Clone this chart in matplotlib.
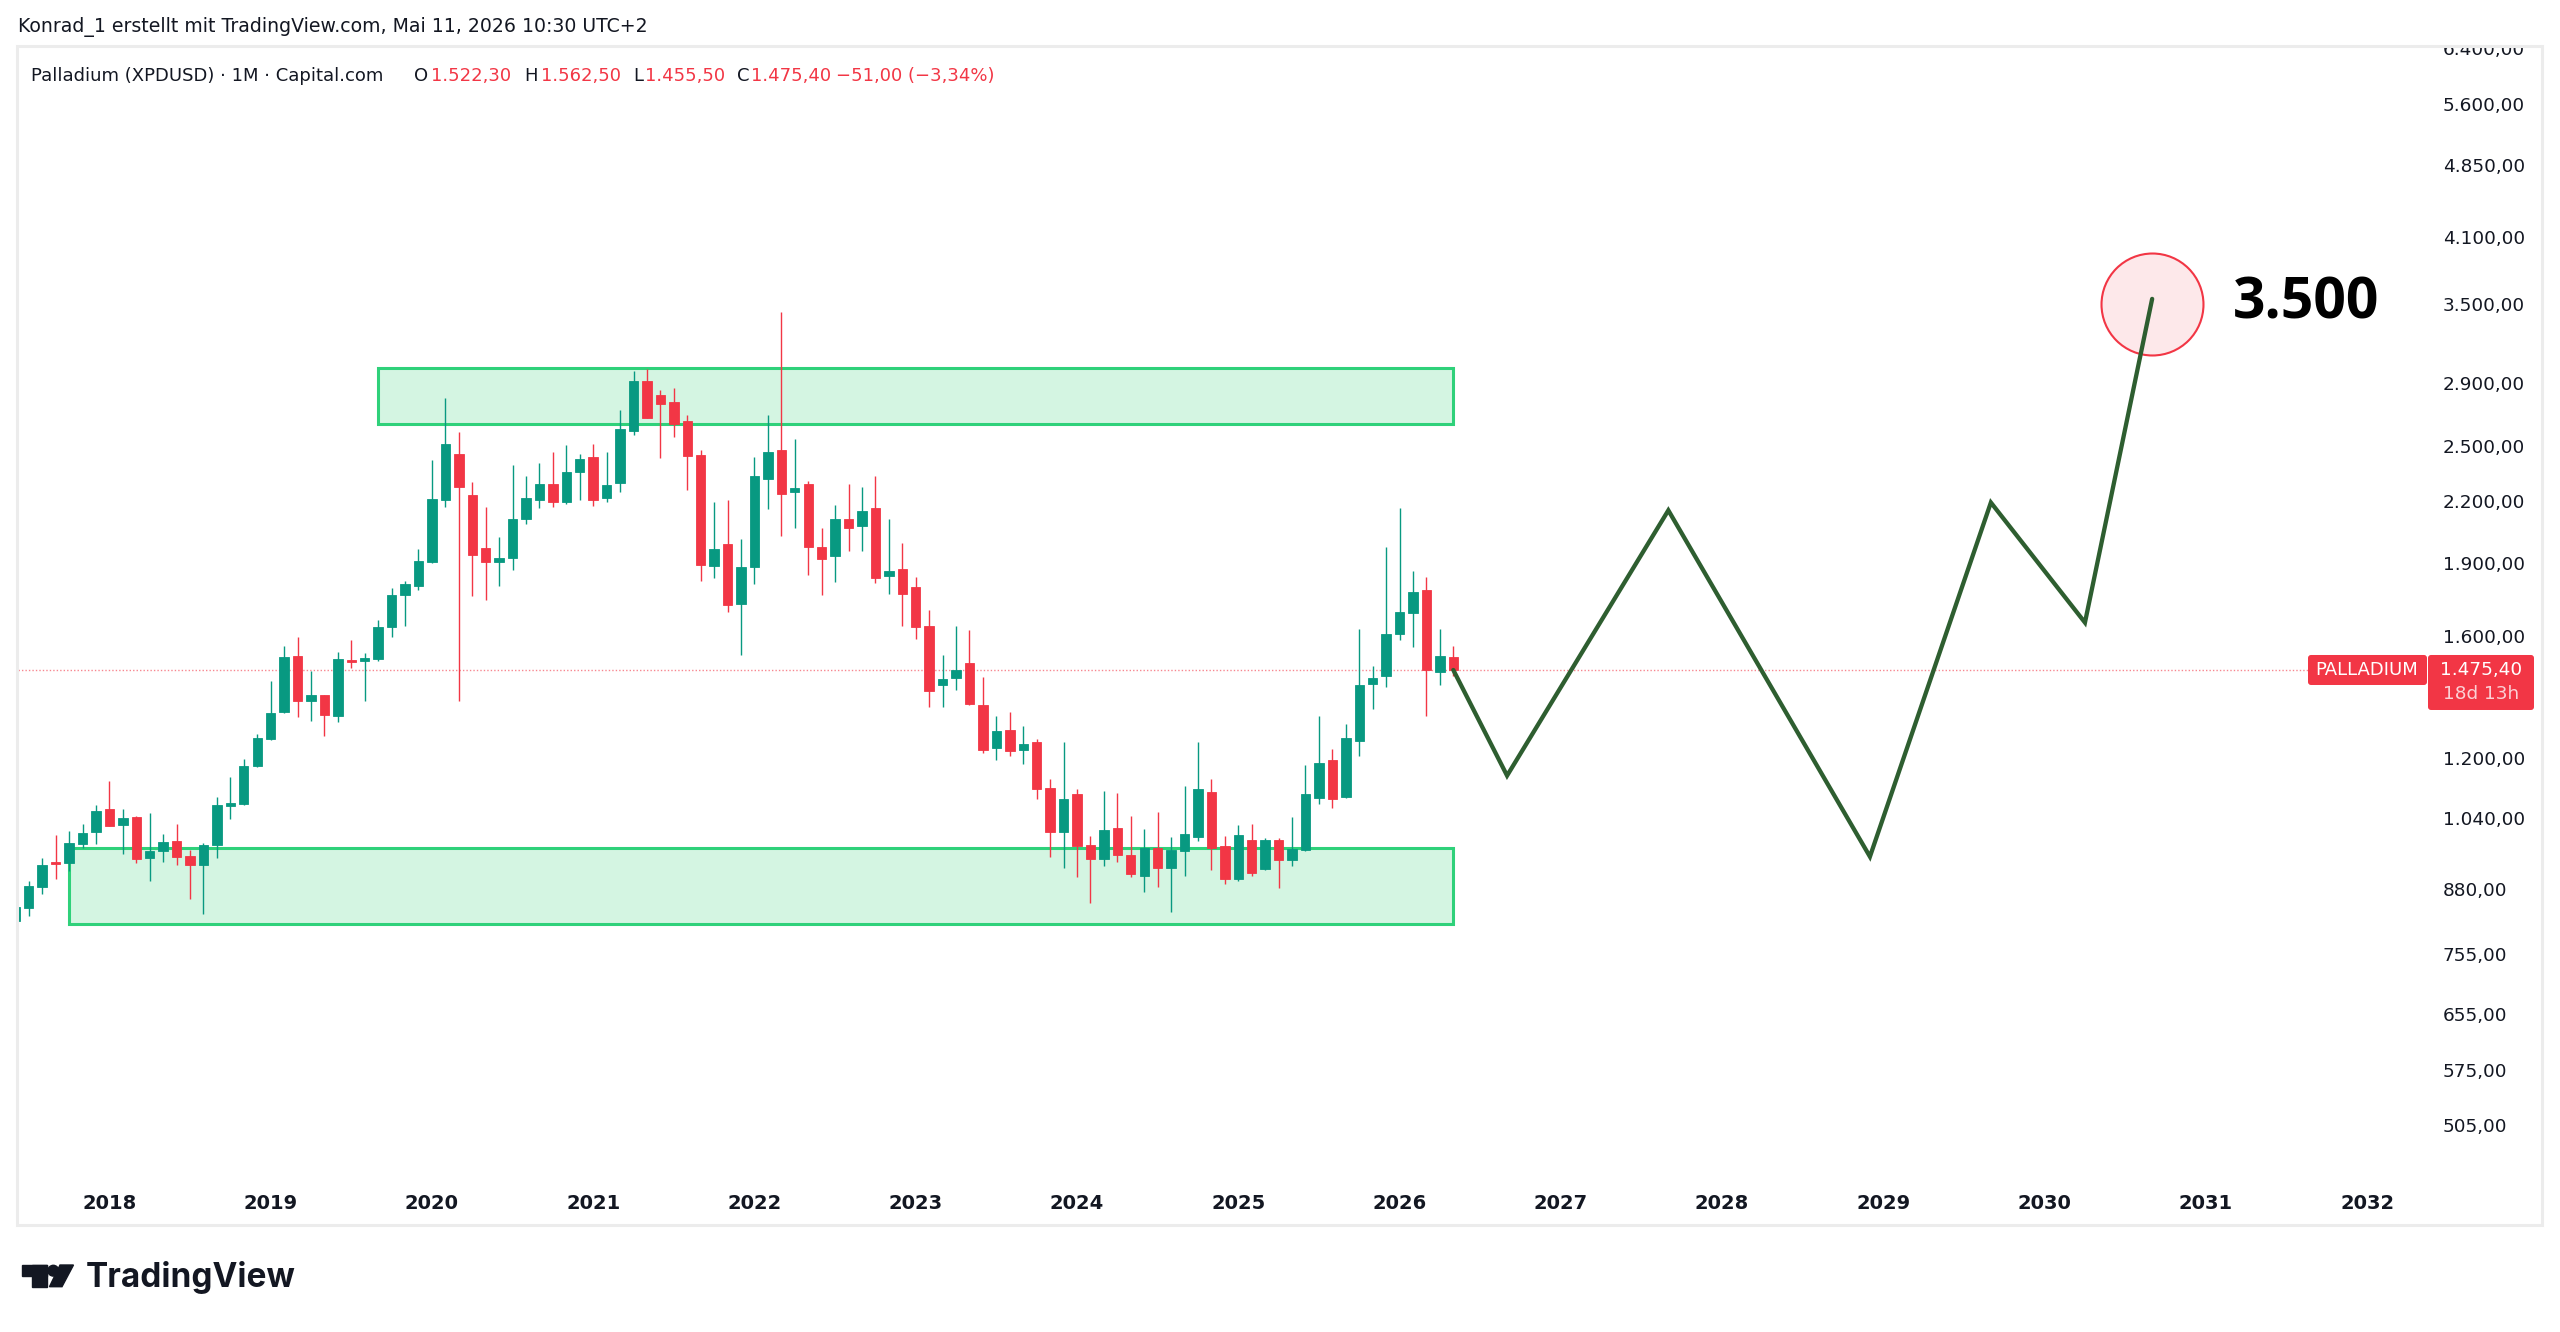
import matplotlib
matplotlib.use('Agg')
import matplotlib.pyplot as plt
from matplotlib.patches import Rectangle, Polygon, Circle, FancyBboxPatch
from matplotlib.ticker import NullLocator, NullFormatter
from matplotlib.transforms import IdentityTransform
import numpy as np
import pandas as pd

plt.rcParams['font.family'] = ['DejaVu Sans']

W, H = 2560, 1332
GREEN = '#089981'
RED = '#f23645'
TEXT = '#131722'

# monthly candles XPDUSD, Jun 2017 .. May 2026
months = pd.date_range('2017-06-01', periods=108, freq='MS')
opens = [
    816, 841, 884, 937, 935, 979, 1006,
    1064, 1024, 1042, 948, 962, 986, 952, 931, 977, 1070, 1075, 1177,
    1255, 1335, 1525, 1372, 1390, 1323, 1512, 1507, 1514, 1632, 1760, 1800,
    1904, 2205, 2456, 2229, 1967, 1904, 1923, 2106, 2202, 2289, 2195, 2352,
    2438, 2215, 2295, 2594, 2920, 2819, 2776, 2654, 2447, 1887, 1987, 1724,
    1881, 2317, 2476, 2247, 2288, 1974, 1929, 2107, 2074, 2163, 1842, 1871,
    1793, 1637, 1424, 1449, 1500, 1359, 1227, 1280, 1222, 1246, 1118, 1008,
    1100, 977, 945, 1017, 954, 908, 969, 924, 962, 995, 1107, 974,
    901, 987, 922, 987, 942, 966, 1092, 1193, 1093, 1247, 1426, 1455,
    1606, 1686, 1782, 1467, 1522.3,
]
highs = [
    846, 897, 948, 1000, 1009, 1027, 1072,
    1135, 1064, 1045, 1054, 1003, 1027, 965, 981, 1093, 1146, 1197, 1270,
    1438, 1563, 1595, 1471, 1392, 1540, 1582, 1534, 1659, 1789, 1822, 1963,
    2422, 2805, 2587, 2300, 2169, 2021, 2392, 2329, 2406, 2465, 2507, 2453,
    2514, 2465, 2724, 2988, 3002, 2855, 2869, 2695, 2476, 2193, 2204, 2009,
    2440, 2690, 3431, 2541, 2305, 2061, 2179, 2288, 2271, 2334, 2107, 1991,
    1838, 1700, 1529, 1637, 1620, 1450, 1325, 1337, 1293, 1253, 1141, 1246,
    1115, 998, 1109, 1103, 1046, 1014, 1055, 995, 1123, 1246, 1140, 998,
    1023, 1027, 993, 993, 1044, 1178, 1323, 1224, 1298, 1627, 1491, 1973,
    2160, 1863, 1839, 1626, 1562.5,
]
lows = [
    812, 825, 869, 902, 919, 970, 979,
    1021, 955, 936, 897, 937, 931, 859, 829, 946, 1039, 1072, 1175,
    1252, 1333, 1320, 1308, 1264, 1305, 1484, 1370, 1507, 1595, 1637, 1780,
    1900, 2169, 1370, 1757, 1740, 1800, 1869, 2081, 2161, 2169, 2180, 2204,
    2171, 2195, 2244, 2569, 2670, 2434, 2555, 2255, 1818, 1832, 1690, 1527,
    1805, 2156, 2026, 2063, 1847, 1762, 1814, 1952, 1952, 1813, 1767, 1637,
    1586, 1352, 1351, 1408, 1358, 1213, 1194, 1204, 1183, 1089, 950, 924,
    906, 852, 930, 937, 905, 873, 884, 833, 907, 985, 920, 890,
    898, 908, 920, 883, 930, 962, 1076, 1066, 1090, 1205, 1346, 1417,
    1584, 1556, 1325, 1424, 1455.5,
]
closes = [
    844, 886, 931, 934, 981, 1004, 1059,
    1022, 1040, 944, 963, 984, 950, 931, 977, 1072, 1077, 1176, 1258,
    1333, 1522, 1370, 1390, 1327, 1514, 1505, 1517, 1632, 1761, 1807, 1907,
    2207, 2517, 2273, 1934, 1902, 1923, 2108, 2212, 2289, 2191, 2354, 2424,
    2202, 2282, 2602, 2920, 2673, 2765, 2638, 2446, 1889, 1964, 1721, 1881,
    2334, 2466, 2237, 2266, 1972, 1917, 2107, 2063, 2149, 1832, 1863, 1763,
    1634, 1405, 1443, 1475, 1361, 1223, 1277, 1219, 1240, 1115, 1006, 1088,
    975, 944, 1011, 954, 911, 970, 925, 965, 1001, 1115, 970, 901,
    1000, 913, 987, 942, 967, 1102, 1185, 1089, 1256, 1425, 1447, 1605,
    1693, 1774, 1474, 1526.4, 1475.4,
]

# support / resistance zones
upper_zone = ('2019-09', '2026-05', 2635, 3010)
lower_zone = ('2017-10', '2026-05', 810, 970)

# drawn projection path and target
proj_dates = ['2026-05', '2026-09', '2027-09', '2028-12', '2029-09', '2030-04', '2030-09']
proj_prices = [1475.4, 1150, 2150, 950, 2190, 1650, 3540]
target_date = '2030-09'
target_price = 3500
target_label = '3.500'
target_label_date = '2031-03'

price_ticks = [505, 575, 655, 755, 880, 1040, 1200, 1600, 1900, 2200, 2500,
               2900, 3500, 4100, 4850, 5600, 6400]
years = list(range(2018, 2033))


def mi(d):
    # month index, Jan 2018 = 0
    t = pd.Timestamp(d)
    return (t.year - 2018) * 12 + t.month - 1


def de(v, dec=2):
    s = f"{v:,.{dec}f}"
    return s.replace(',', 'X').replace('.', ',').replace('X', '.').replace('-', '\u2212')


def px_box(left, top, right, bottom):
    return [left / W, 1 - bottom / H, (right - left) / W, (bottom - top) / H]


fig = plt.figure(figsize=(W / 100, H / 100), dpi=100)
fig.patch.set_facecolor('white')
ax = fig.add_axes(px_box(18, 47, 2429, 1175))

ax.set_yscale('log')
ax.set_ylim(448.4, 6412)
ax.set_xlim(-6.8, 172.6)
for s in ax.spines.values():
    s.set_visible(False)

# candles
o = np.array(opens, float)
h = np.array(highs, float)
l = np.array(lows, float)
c = np.array(closes, float)
x = np.array([mi(d) for d in months])
cols = np.where(c >= o, GREEN, RED)
ax.vlines(x, l, h, colors=cols, lw=1.0, zorder=3)
ax.bar(x, np.abs(c - o), bottom=np.minimum(o, c), width=0.7,
       color=cols, edgecolor=cols, linewidth=0.6, zorder=4)

# zones
for start, end, lo, hi in (upper_zone, lower_zone):
    ax.add_patch(Rectangle((mi(start), lo), mi(end) - mi(start), hi - lo,
                           facecolor='#d4f5e2', edgecolor='#2fd17a', lw=2.2, zorder=2))

# last price line
ax.axhline(c[-1], color=RED, lw=1, ls=(0, (1, 1.5)), alpha=0.6, zorder=1)

# projection
ax.scatter([mi(target_date)], [target_price], s=5390, marker='o',
           facecolor='#fde8ea', edgecolor=RED, linewidths=1.5, zorder=5)
ax.plot([mi(d) for d in proj_dates], proj_prices, color='#2e5e30', lw=3.1,
        solid_capstyle='round', solid_joinstyle='miter', zorder=6)
ax.text(mi(target_label_date), target_price, target_label, fontsize=41,
        fontweight='bold', family=['Open Sans', 'DejaVu Sans'],
        color='#000000', ha='left', va='center', zorder=7)

# axes ticks
ax.yaxis.tick_right()
ax.set_yticks(price_ticks)
ax.set_yticklabels([de(v) for v in price_ticks], ha='left')
ax.yaxis.set_minor_locator(NullLocator())
ax.yaxis.set_minor_formatter(NullFormatter())
ax.tick_params(axis='y', length=0, pad=10, labelsize=13.3, labelcolor=TEXT)
ax.set_xticks([mi(f'{y}-01') for y in years])
ax.set_xticklabels([str(y) for y in years], fontweight='bold')
ax.tick_params(axis='x', length=0, pad=14, labelsize=14, labelcolor=TEXT)

# cover half of the top price label above the pane, then the pane frame
ident = IdentityTransform()
fig.add_artist(Rectangle((2290, H - 45), 270, 45, transform=ident,
                         facecolor='white', edgecolor='none', zorder=5))
fig.add_artist(Rectangle((17, H - 1225), 2525, 1179, transform=ident,
                         facecolor='none', edgecolor='#ececec', lw=2.2, zorder=6))

# last price tags
yp = ax.transData.transform((0, c[-1]))[1]
fig.add_artist(FancyBboxPatch((2308, yp - 15), 119, 30, transform=ident,
                              boxstyle='round,pad=0,rounding_size=3',
                              facecolor=RED, edgecolor='none', zorder=7))
fig.add_artist(FancyBboxPatch((2428, yp - 40), 106, 55, transform=ident,
                              boxstyle='round,pad=0,rounding_size=3',
                              facecolor=RED, edgecolor='none', zorder=7))
fig.text(2367, yp, 'PALLADIUM', transform=ident, color='white', fontsize=13,
         ha='center', va='center', zorder=8)
fig.text(2481, yp, de(c[-1]), transform=ident, color='white', fontsize=13.3,
         ha='center', va='center', zorder=8)
fig.text(2481, yp - 24, '18d 13h', transform=ident, color='#fbd0d5', fontsize=13.3,
         ha='center', va='center', zorder=8)

# header
fig.text(18, H - 27, 'Konrad_1 erstellt mit TradingView.com, Mai 11, 2026 10:30 UTC+2',
         transform=ident, fontsize=13.6, color=TEXT, ha='left', va='center', zorder=8)

# legend line, change vs previous close
chg = c[-1] - c[-2]
pct = chg / c[-2] * 100
legend_parts = [
    (31, 'Palladium (XPDUSD) · 1M · Capital.com', TEXT),
    (414, 'O', TEXT), (431, de(o[-1]), RED),
    (524, 'H', TEXT), (541, de(h[-1]), RED),
    (633, 'L', TEXT), (645, de(l[-1]), RED),
    (737, 'C', TEXT), (751, de(c[-1]), RED),
    (836, f'{de(chg)} ({de(pct)}%)', RED),
]
for xp, txt, col in legend_parts:
    fig.text(xp, H - 76, txt, transform=ident, fontsize=13, color=col,
             ha='left', va='center', zorder=8)

# TradingView logo
k = '#131722'
fig.add_artist(Rectangle((21.7, H - 1276), 25, 11, transform=ident, color=k, zorder=8))
fig.add_artist(Rectangle((32, H - 1286.7), 14.7, 21.7, transform=ident, color=k, zorder=8))
fig.add_artist(Circle((53.3, H - 1270.7), 5.4, transform=ident, color=k, zorder=8))
fig.add_artist(Polygon([(60, H - 1265), (73.5, H - 1265), (62, H - 1286.7), (49.5, H - 1286.7)],
                       closed=True, transform=ident, color=k, zorder=8))
fig.text(86, H - 1286.7, 'TradingView', transform=ident, fontsize=24,
         fontweight='bold', family=['Inter', 'DejaVu Sans'], color=k,
         ha='left', va='baseline', zorder=8)

fig.savefig('out.png', dpi=100)
